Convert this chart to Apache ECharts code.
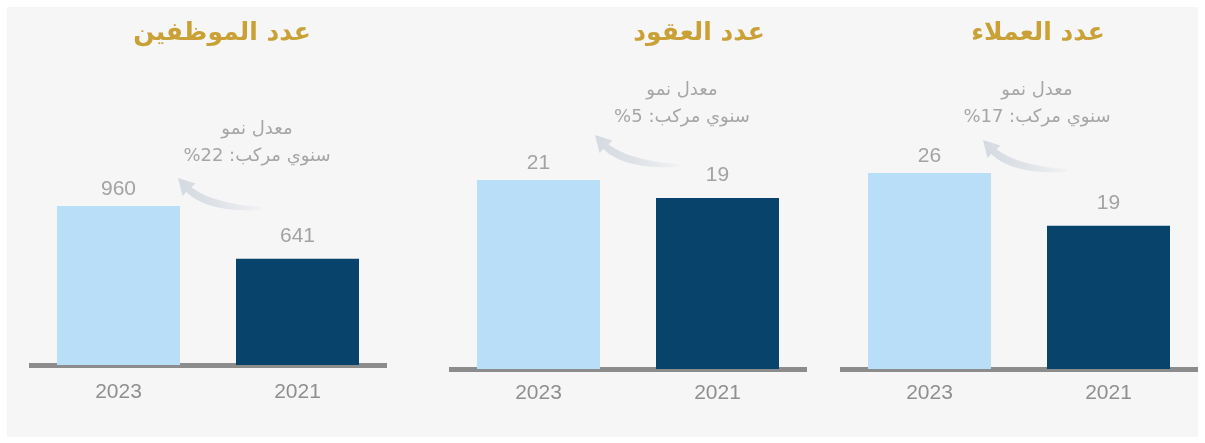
<!DOCTYPE html>
<html><head><meta charset="utf-8">
<script src="https://cdn.jsdelivr.net/npm/echarts@6/dist/echarts.min.js"></script>
<style>html,body{margin:0;padding:0;background:#fff;} #c{width:1205px;height:443px;}</style>
</head><body><div id="c" dir="rtl"></div>
<script>
// ---- data ----
const categories = ['2023', '2021'];
const titles = ['عدد الموظفين', 'عدد العقود', 'عدد العملاء'];
const employees = [960, 641];
const contracts = [21, 19];
const clients = [26, 19];
const cagrLabel1 = 'معدل نمو';
const cagrLabel2 = 'سنوي مركب: ';
const cagrValues = ['22%', '5%', '17%'];

// ---- layout / style ----
const panelValues = [employees, contracts, clients];
const layout = [
  {left: 29,  top: 206, bottom: 78, labelMargin: 17, titleX: 222,  noteX: 257,  noteY: 143, arrowX: 178, arrowY: 178},
  {left: 449, top: 180, bottom: 74, labelMargin: 14, titleX: 699,  noteX: 682,  noteY: 104, arrowX: 595, arrowY: 135},
  {left: 840, top: 173, bottom: 74, labelMargin: 14, titleX: 1038, noteX: 1037, noteY: 104, arrowX: 983, arrowY: 140}
];
const barColors = ['#b9dff8', '#07436b'];
const labelDist = [6, 12];
const numFont = 'Liberation Sans, Arial, sans-serif';
const arFont = 'DejaVu Sans, Noto Sans, sans-serif';

// decorative curved arrow outline (local coords, tip at 0,0)
function quad(p0, c, p1, n) {
  const pts = [];
  for (let k = 0; k <= n; k++) {
    const t = k / n, u = 1 - t;
    pts.push([u * u * p0[0] + 2 * u * t * c[0] + t * t * p1[0], u * u * p0[1] + 2 * u * t * c[1] + t * t * p1[1]]);
  }
  return pts;
}
const arrowShape = [].concat(
  quad([84, 29], [36, 26], [13.5, 9.3], 16),
  [[17.5, 5.5], [0, 0], [4.5, 18]],
  quad([8.3, 14.1], [30, 35], [84, 32], 16)
);

const chart = echarts.init(document.getElementById('c'), null, {renderer: 'canvas'});

const grids = [], xAxes = [], yAxes = [], series = [];
const graphics = [{
  type: 'rect', z: -10, silent: true,
  shape: {x: 7, y: 7, width: 1191, height: 430},
  style: {fill: '#f6f6f6'}
}];

layout.forEach((p, i) => {
  grids.push({left: p.left, width: 358, top: p.top, bottom: p.bottom, containLabel: false});
  xAxes.push({
    type: 'category', gridIndex: i, data: categories,
    axisLine: {show: true, lineStyle: {color: '#8c8c8c', width: 5, cap: 'butt'}},
    axisTick: {show: false},
    axisLabel: {color: '#8f8f8f', fontSize: 21, margin: p.labelMargin, fontFamily: numFont}
  });
  yAxes.push({type: 'value', gridIndex: i, min: 0, max: 'dataMax', show: false, splitLine: {show: false}});
  series.push({
    type: 'bar', xAxisIndex: i, yAxisIndex: i, barWidth: 123, silent: true,
    label: {show: true, position: 'top', color: '#a3a3a3', fontSize: 21, fontFamily: numFont},
    data: panelValues[i].map((v, j) => ({
      value: v,
      itemStyle: {color: barColors[j]},
      label: {distance: labelDist[j]}
    }))
  });
  graphics.push({
    type: 'text', x: p.titleX, y: 33, silent: true,
    style: {text: titles[i], fill: '#c9a136', fontSize: 25, fontWeight: 'bold', fontFamily: arFont,
            align: 'center', verticalAlign: 'middle'}
  });
  graphics.push({
    type: 'text', x: p.noteX, y: p.noteY, silent: true,
    style: {text: cagrLabel1 + '\n' + cagrLabel2 + cagrValues[i], fill: '#a6a6a6', fontSize: 18,
            lineHeight: 27, fontFamily: arFont, align: 'center', verticalAlign: 'middle'}
  });
  graphics.push({
    type: 'polygon', x: p.arrowX, y: p.arrowY, silent: true,
    shape: {points: arrowShape},
    style: {fill: new echarts.graphic.LinearGradient(0, 0, 1, 0, [
      {offset: 0, color: '#d4dae1'}, {offset: 0.5, color: '#dfe3e8'}, {offset: 1, color: '#f1f2f3'}])}
  });
});

chart.setOption({
  backgroundColor: '#ffffff',
  animation: false,
  grid: grids, xAxis: xAxes, yAxis: yAxes, series: series,
  graphic: graphics
});
</script></body></html>
